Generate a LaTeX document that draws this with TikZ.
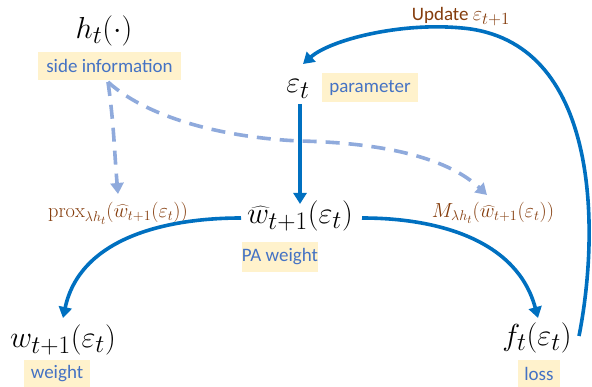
\documentclass[tikz,border=0pt]{standalone}
\usepackage{fontspec}
\setmainfont{Carlito}
\setmathrm{Latin Modern Roman}
\usetikzlibrary{arrows.meta}
\definecolor{solidblue}{HTML}{0070C0}
\definecolor{dashblue}{HTML}{8FAADC}
\definecolor{brownlab}{HTML}{843C0C}
\definecolor{boxfill}{HTML}{FFF2CC}
\definecolor{boxtext}{HTML}{4472C4}
\newcommand{\MyBigMath}[1]{\scalebox{1.22}{#1}}
\newcommand{\MyMidMath}[1]{\scalebox{1.18}{#1}}
\begin{document}
\begin{tikzpicture}[x=1pt,y=-1pt,
  mathnode/.style={inner sep=0pt,font=\fontsize{24.88}{28}\selectfont},
  tagbox/.style={fill=boxfill,text=boxtext,inner sep=0pt,font=\fontsize{19}{22}\selectfont},
  brownlabel/.style={text=brownlab,inner sep=0pt,font=\fontsize{17.28}{20}\selectfont},
  updlabel/.style={text=brownlab,inner sep=0pt,font=\fontsize{19}{22}\selectfont},
  solidarrow/.style={solidblue,line width=3.6pt,-{Triangle[width=13pt,length=11pt]}},
  dasharrow/.style={dashblue,line width=3.6pt,dash pattern=on 14pt off 9pt,-{Triangle[width=13pt,length=11pt]}}]
\useasboundingbox (0,0) rectangle (592,387);
% nodes
\node[mathnode] (h) at (104,31) {\MyBigMath{$h_t(\cdot)$}};
\node[tagbox,minimum width=143pt,minimum height=28pt] (side) at (109.5,66) {side information};
\node[mathnode] (eps) at (298,89) {\MyBigMath{$\varepsilon_t$}};
\node[tagbox,minimum width=96pt,minimum height=29pt] (param) at (370,88) {parameter};
\node[mathnode] (what) at (300,216) {\MyBigMath{$\widehat{w}_{t+1}(\varepsilon_t)$}};
\node[tagbox,minimum width=70pt,minimum height=30pt] (pa) at (280,257) {PA weight};
\node[brownlabel] (prox) at (118,213) {\MyMidMath{$\mathrm{prox}_{\lambda h_t}(\widehat{w}_{t+1}(\varepsilon_t))$}};
\node[brownlabel] (M) at (493,213) {\MyMidMath{$M_{\lambda h_t}(\widehat{w}_{t+1}(\varepsilon_t))$}};
\node[mathnode] (w) at (63,340) {\MyBigMath{$w_{t+1}(\varepsilon_t)$}};
\node[tagbox,minimum width=66pt,minimum height=27pt] (weight) at (57,373.5) {weight};
\node[mathnode] (f) at (537,338) {\MyBigMath{$f_t(\varepsilon_t)$}};
\node[tagbox,minimum width=42pt,minimum height=27pt] (loss) at (539,373.5) {loss};
\node[updlabel] (upd) at (461,17) {Update \MyMidMath{$\varepsilon_{t+1}$}};
% anchor coordinates
\coordinate (epsbot) at (300,104);
\coordinate (whattop) at (300,204);
\coordinate (whatleft) at (241,218);
\coordinate (whatright) at (362,218);
\coordinate (wtop) at (63,318);
\coordinate (ftop) at (538,318);
\coordinate (fright) at (579,336);
\coordinate (top) at (462,28);
\coordinate (epstop) at (303,64);
\coordinate (sidebot) at (108,82);
\coordinate (proxtop) at (118,194);
\coordinate (mid) at (300,141);
\coordinate (Mtop) at (487,195);
% connectors
\draw[solidarrow] (epsbot) -- (whattop);
\draw[solidarrow] (whatleft) to[out=180,in=78] (wtop);
\draw[solidarrow] (whatright) to[out=0,in=105] (ftop);
\draw[solidarrow] (fright) .. controls (600,230) and (600,40) .. (top) .. controls (400,22) and (330,40) .. (epstop);
\draw[dasharrow] (sidebot) to[out=-82,in=95] (proxtop);
\draw[dasharrow] (sidebot) .. controls (150,120) and (230,138) .. (mid) .. controls (390,143) and (450,160) .. (Mtop);
\end{tikzpicture}
\end{document}
